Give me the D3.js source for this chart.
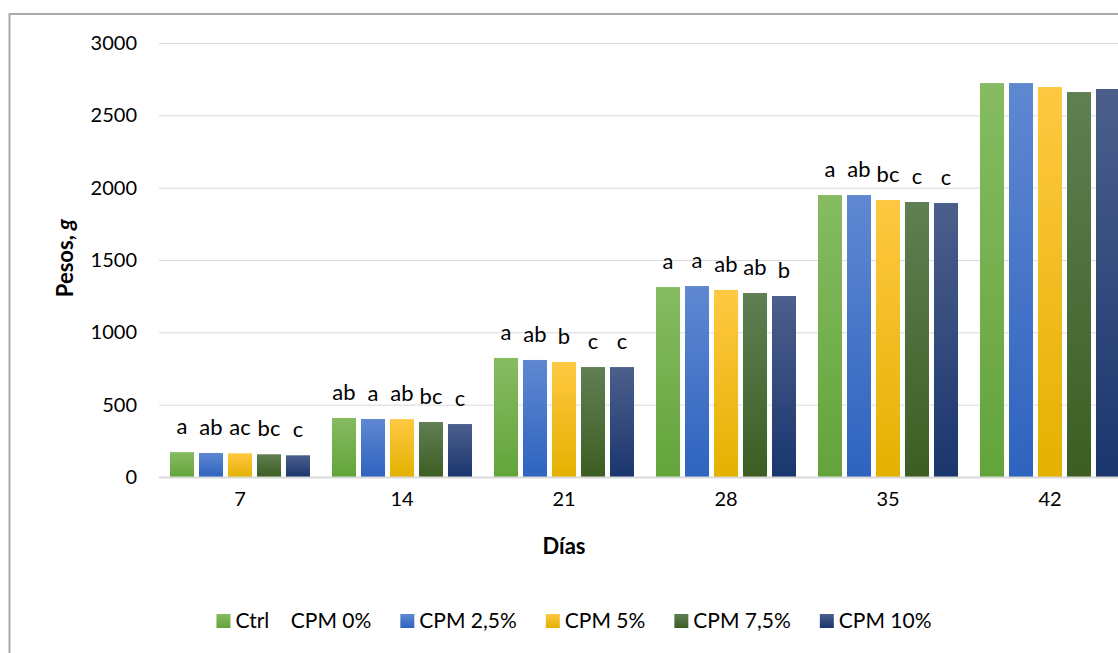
<!DOCTYPE html>
<html>
<head>
<meta charset="utf-8">
<script src="https://cdn.jsdelivr.net/npm/d3@7"></script>
<style>
  html, body { margin: 0; padding: 0; background: #ffffff; }
  svg { display: block; font-family: Lato, "Open Sans", sans-serif; }
</style>
</head>
<body>
<svg id="chart" width="1118" height="653"></svg>
<script>
// Body weight (g) per sampling day for each diet
const categories = ["7", "14", "21", "28", "35", "42"];
const seriesNames = ["Ctrl    CPM 0%", "CPM 2,5%", "CPM 5%", "CPM 7,5%", "CPM 10%"];

const ctrlValues  = [172, 408, 823, 1313, 1949, 2723];
const cpm25Values = [166, 401, 809, 1320, 1949, 2723];
const cpm5Values  = [164, 400, 795, 1293, 1915, 2696];
const cpm75Values = [157, 380, 760, 1272, 1901, 2661];
const cpm10Values = [150, 366, 760, 1251, 1894, 2682];

// Significance letters above each bar (none on day 42)
const ctrlLetters  = ["a", "ab", "a", "a", "a", ""];
const cpm25Letters = ["ab", "a", "ab", "a", "ab", ""];
const cpm5Letters  = ["ac", "ab", "b", "ab", "bc", ""];
const cpm75Letters = ["bc", "bc", "c", "ab", "c", ""];
const cpm10Letters = ["c", "c", "c", "b", "c", ""];

const yTicks = [0, 500, 1000, 1500, 2000, 2500, 3000];

const seriesValues = [ctrlValues, cpm25Values, cpm5Values, cpm75Values, cpm10Values];
const seriesLetters = [ctrlLetters, cpm25Letters, cpm5Letters, cpm75Letters, cpm10Letters];

// gradient stops: lighter top, deeper bottom
const seriesColors = [
  ["#86bb62", "#63a43a"],
  ["#5f88d1", "#2e63bf"],
  ["#ffc842", "#e4b100"],
  ["#607f53", "#3c5e22"],
  ["#4c5f8c", "#1a366e"]
];

const svg = d3.select("#chart");
const margin = { left: 159, top: 43, bottom: 477 };
const plotRight = 159 + 162 * 6;

const x0 = d3.scaleBand().domain(categories).range([margin.left, plotRight]).paddingInner(0).paddingOuter(0);
const x1 = d3.scaleBand().domain(d3.range(seriesNames.length)).range([11, 162 - 11]).paddingInner(0.172).paddingOuter(0);
const y = d3.scaleLinear().domain([0, 3000]).range([margin.bottom, margin.top]);

// gradients
const defs = svg.append("defs");
seriesColors.forEach((c, i) => {
  const g = defs.append("linearGradient").attr("id", "grad" + i)
    .attr("x1", 0).attr("y1", 0).attr("x2", 0).attr("y2", 1);
  g.append("stop").attr("offset", "0%").attr("stop-color", c[0]);
  g.append("stop").attr("offset", "100%").attr("stop-color", c[1]);
});

// chart area border
svg.append("rect")
  .attr("x", 9.5).attr("y", 14).attr("width", 1140).attr("height", 700)
  .attr("fill", "none").attr("stroke", "#a9a9a9").attr("stroke-width", 2);

// gridlines
svg.append("g").selectAll("line").data(yTicks.filter(d => d > 0)).join("line")
  .attr("x1", margin.left).attr("x2", plotRight)
  .attr("y1", d => y(d) + 0.5).attr("y2", d => y(d) + 0.5)
  .attr("stroke", "#d9d9d9").attr("stroke-width", 1);

// y axis labels
const yAxis = d3.axisLeft(y).tickValues(yTicks).tickSize(0).tickPadding(0).tickFormat(d3.format("d"));
const yG = svg.append("g").attr("transform", `translate(${137},0)`).call(yAxis);
yG.select(".domain").remove();
yG.selectAll("text").attr("font-size", 20).attr("fill", "#000").attr("font-family", "Lato");

// bars
const groups = svg.append("g").selectAll("g").data(seriesValues).join("g")
  .attr("fill", (d, i) => `url(#grad${i})`);
groups.each(function(vals, si) {
  d3.select(this).selectAll("rect").data(vals).join("rect")
    .attr("x", (v, ci) => x0(categories[ci]) + x1(si))
    .attr("width", x1.bandwidth())
    .attr("y", v => y(v))
    .attr("height", v => y(0) - y(v));
});

// category axis line
svg.append("line")
  .attr("x1", margin.left).attr("x2", plotRight)
  .attr("y1", y(0) + 0.5).attr("y2", y(0) + 0.5)
  .attr("stroke", "#d9d9d9").attr("stroke-width", 2);

// significance letters
seriesLetters.forEach((letters, si) => {
  svg.append("g").selectAll("text").data(letters).join("text")
    .attr("x", (l, ci) => x0(categories[ci]) + x1(si) + x1.bandwidth() / 2)
    .attr("y", (l, ci) => y(seriesValues[si][ci]) - 18)
    .attr("text-anchor", "middle")
    .attr("font-size", 22)
    .attr("fill", "#000")
    .text(l => l);
});

// x axis labels
const xAxis = d3.axisBottom(x0).tickSize(0).tickPadding(0);
const xG = svg.append("g").attr("transform", `translate(0,${y(0) + 15})`).call(xAxis);
xG.select(".domain").remove();
xG.selectAll("text").attr("font-size", 20).attr("fill", "#000").attr("font-family", "Lato");

// axis titles
svg.append("text")
  .attr("x", (margin.left + plotRight) / 2 - 81).attr("y", 554)
  .attr("text-anchor", "middle").attr("font-size", 22).attr("font-weight", "bold")
  .text("Días");

const yTitle = svg.append("text")
  .attr("transform", `translate(73,${(margin.top + margin.bottom) / 2 - 2}) rotate(-90)`)
  .attr("text-anchor", "middle").attr("font-size", 22).attr("font-weight", "bold");
yTitle.append("tspan").text("Pesos, ");
yTitle.append("tspan").attr("font-style", "italic").text("g");

// legend
const legend = svg.append("g");
const items = legend.selectAll("g").data(seriesNames).join("g");
items.append("rect").attr("width", 14).attr("height", 14).attr("y", -7)
  .attr("fill", (d, i) => `url(#grad${i})`);
items.append("text").attr("x", 19).attr("dy", "0.35em")
  .attr("font-size", 21).style("white-space", "pre")
  .text(d => d);
let cursor = 0;
const offsets = [];
items.each(function() {
  offsets.push(cursor);
  const w = 19 + d3.select(this).select("text").node().getComputedTextLength();
  cursor += w + 29;
});
const totalW = cursor - 29;
const startX = 574 - totalW / 2;
items.attr("transform", (d, i) => `translate(${startX + offsets[i]},621)`);
</script>
</body>
</html>
